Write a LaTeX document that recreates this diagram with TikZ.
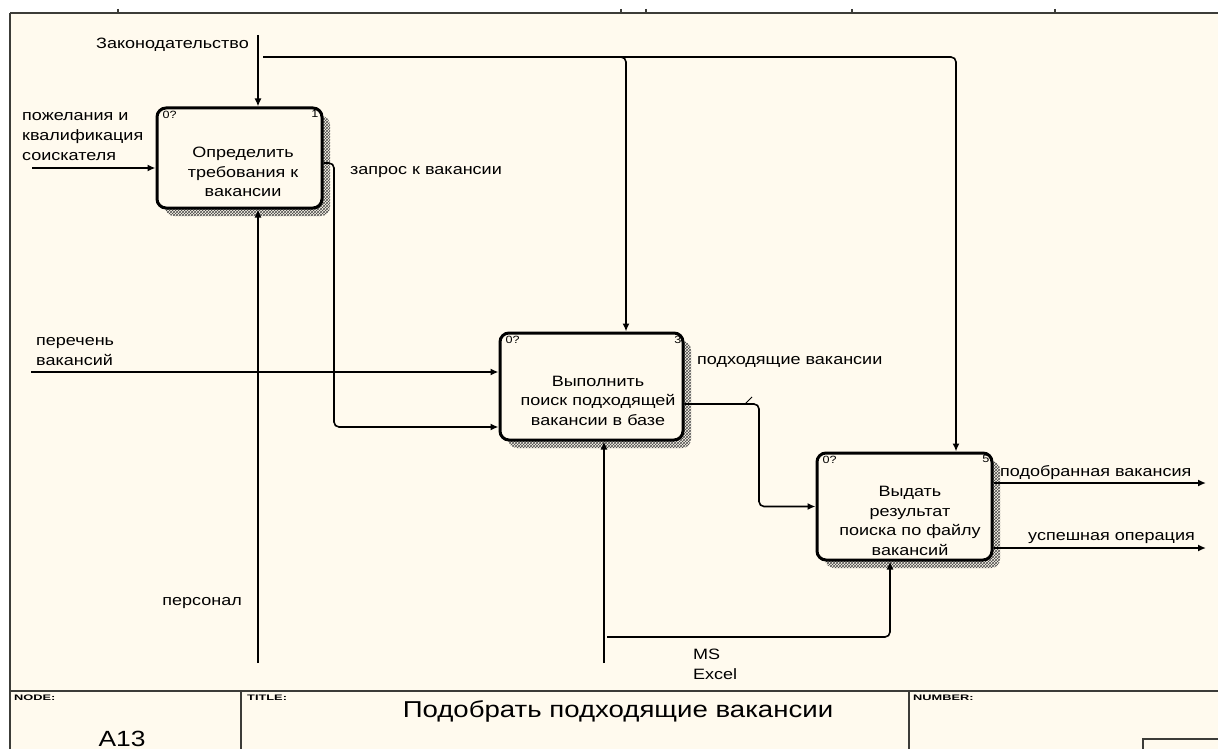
\documentclass[tikz,border=0pt]{standalone}
\usepackage{fontspec}
\setmainfont[FakeStretch=1.2]{Liberation Sans}
\usetikzlibrary{arrows.meta,calc,patterns,shadows}
\definecolor{paper}{RGB}{255,250,238}
\definecolor{frameline}{RGB}{60,60,56}

\begin{document}
\begin{tikzpicture}[x=1pt,y=-1pt,
	idefbox/.style={draw,line width=3pt,rounded corners=9pt,fill=paper,
		general shadow={shadow xshift=8pt,shadow yshift=-8pt,
			pattern=crosshatch,pattern color=black!70}},
	boxtext/.style={font=\fontsize{15}{19.5}\selectfont,align=center,inner sep=0pt},
	tag/.style={font=\fontsize{10.5}{11}\selectfont,inner sep=0pt},
	sheet/.style={draw=frameline,line width=2pt},
	hd/.style={font=\fontsize{8}{9}\selectfont\bfseries\addfontfeature{FakeStretch=1.6},
		anchor=west,inner sep=0pt}]
	\useasboundingbox (0,0) rectangle (1218,749);
	\fill[paper] (10,13) rectangle (1218,749);

	% sheet frame and title block
	\draw[sheet] (10,13) -- (1218,13);
	\draw[sheet] (10,13) -- (10,749);
	\foreach \x in {118,621,646,852,1055}
		\draw[sheet,line width=1.5pt] (\x,9) -- (\x,13);
	\draw[sheet] (10,691) -- (1218,691);
	\draw[sheet] (241,691) -- (241,749);
	\draw[sheet] (909,691) -- (909,749);
	\draw[sheet] (1143,749) -- (1143,739) -- (1218,739);

	\node[hd] (nodehd) at (14,698) {NODE:};
	\node[hd] (titlehd) at (247,698) {TITLE:};
	\node[hd] (numberhd) at (913,698) {NUMBER:};
	\node[font=\fontsize{22}{24}\selectfont,anchor=base,inner sep=0pt] (nodeno) at (122,746) {A13};
	\node[font=\fontsize{23}{26}\selectfont,inner sep=0pt] (title) at (618,711) {Подобрать подходящие вакансии};

	% activity boxes
	\begin{scope}[every node/.style={idefbox}]
		\node[minimum width=165pt,minimum height=100pt] (b1) at (239.5,158) {};
		\node[minimum width=183pt,minimum height=107pt] (b2) at (591.5,386.5) {};
		\node[minimum width=175pt,minimum height=107pt] (b3) at (904.5,506.5) {};
	\end{scope}

	\node[boxtext] (b1txt) at ($(b1.center)+(3.5,14)$) {Определить\\требования к\\вакансии};
	\node[boxtext] (b2txt) at ($(b2.center)+(6.5,14)$) {Выполнить\\поиск подходящей\\вакансии в базе};
	\node[boxtext] (b3txt) at ($(b3.center)+(5.5,14.5)$) {Выдать\\результат\\поиска по файлу\\вакансий};

	\node[tag,anchor=north west] (b1cost) at ($(b1.north west)+(7,4)$) {0?};
	\node[tag,anchor=north east] (b1num) at ($(b1.north east)+(-5,4)$) {1};
	\node[tag,anchor=north west] (b2cost) at ($(b2.north west)+(7,4)$) {0?};
	\node[tag,anchor=north east] (b2num) at ($(b2.north east)+(-3,4)$) {3};
	\node[tag,anchor=north west] (b3cost) at ($(b3.north west)+(7,4)$) {0?};
	\node[tag,anchor=north east] (b3num) at ($(b3.north east)+(-4,4)$) {5};

	% arrow labels
	\begin{scope}[every node/.style={font=\fontsize{15}{20}\selectfont,inner sep=0pt,align=left}]
		\node[anchor=east] (lawtxt) at (249,45) {Законодательство};
		\node[anchor=west] (wishtxt) at (22,137) {пожелания и\\квалификация\\соискателя};
		\node[anchor=west] (reqtxt) at (350,172) {запрос к вакансии};
		\node[anchor=west] (listtxt) at (36,352) {перечень\\вакансий};
		\node[anchor=east] (stafftxt) at (242,603) {персонал};
		\node[anchor=west] (fittxt) at (697,362) {подходящие вакансии};
		\node[anchor=west] (resulttxt) at (1000,473) {подобранная вакансия};
		\node[anchor=west] (oktxt) at (1028,538) {успешная операция};
		\node[anchor=west] (tooltxt) at (693,664) {MS\\Excel};
	\end{scope}

	% free ends of the arrows
	\coordinate (law) at (258,35);
	\coordinate (lawbus) at (263,57);
	\coordinate (wish) at (32,168);
	\coordinate (list) at (31,372);
	\coordinate (staff) at (258,663);
	\coordinate (tool) at (604,663);
	\coordinate (toolbus) at (607,637);
	\coordinate (result) at (1206,483);
	\coordinate (ok) at (1206,548);

	\begin{scope}[line width=1.6pt,rounded corners=5pt,
	              every path/.style={-{Latex[length=8pt,width=7pt]}}]
		\draw (law) -- (law |- b1.north);
		\draw (lawbus) -| ($(b3.north)+(51.5,0)$);
		\draw (lawbus) -| ($(b2.north)+(34.5,0)$);
		\draw (wish) -- (wish -| b1.west);
		\draw ($(b1.east)+(0,5)$) -| (334,300) |- ($(b2.west)+(0,40.5)$);
		\draw (list) -- (list -| b2.west);
		\draw (staff) -- (staff |- b1.south);
		\draw ($(b2.east)+(0,17.5)$) -| (759,450) |- (b3.west);
		\draw (tool) -- (tool |- b2.south);
		\draw (toolbus) -| ($(b3.south)+(-14.5,0)$);
		\draw ($(b3.east)+(0,-23.5)$) -- (result);
		\draw ($(b3.east)+(0,41.5)$) -- (ok);
	\end{scope}
	\draw[line width=1pt] (745,404) -- (752,397);
\end{tikzpicture}
\end{document}
